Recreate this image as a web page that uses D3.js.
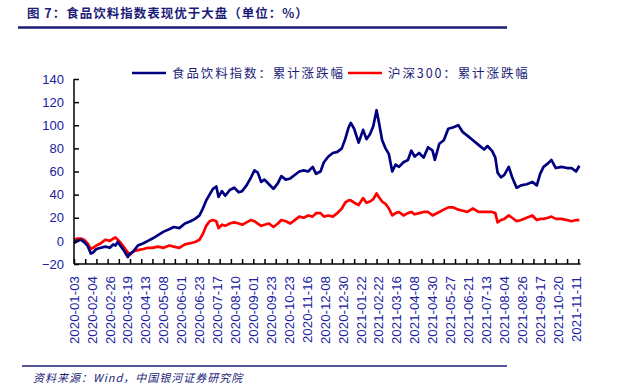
<!DOCTYPE html>
<html>
<head>
<meta charset="utf-8">
<script src="https://cdn.jsdelivr.net/npm/d3@7"></script>
<style>
  body { margin: 0; background: #fff; }
  svg text { font-family: "Liberation Sans", Arial, sans-serif; }
  .cjk { font-family: "Noto Sans CJK SC", sans-serif; }
</style>
</head>
<body>
<div id="chart"></div>
<script>
// trading-day index (0 = 2020-01-03) and cumulative change, %
var dayIdx = [0,3,6,9,12,15,17,20,24,28,32,35,37,39,42,45,48,50,53,57,62,66,70,75,80,85,89,94,99,104,
  108,112,115,118,121,124,127,129,132,135,139,143,147,150,154,158,161,164,167,170,174,178,182,185,189,193,197,201,205,209,
  213,216,220,223,227,231,235,239,242,245,247,250,254,258,261,264,267,270,272,275,278,281,284,287,290,294,298,301,304,308,
  312,316,320,322,326,330,334,338,343,347,351,356,361,366,369,373,376,378,381,384,388,391,395,399,404,409,413,416,419,423,
  426,430,435,440,444,448,451];
var foodBev = [-2,0,1,-1,-4,-11,-10,-7,-6,-5,-6,-3,-4,-1,-5,-9,-14,-11,-9,-4,-2,0,2,5,8,10,12,11,15,17,
  19,22,28,35,40,45,47,38,43,39,44,46,42,43,48,55,61,59,51,53,49,45,50,56,53,54,57,60,61,60,
  64,58,60,68,73,76,77,80,88,98,102,97,85,96,88,92,99,113,103,87,80,75,60,66,64,68,70,78,73,76,
  72,81,78,70,84,87,97,98,100,94,91,87,83,79,82,78,72,59,55,57,64,55,46,48,49,51,48,58,64,67,
  70,63,64,63,63,60,65];
var hs300 = [1,2,2,1,-2,-7,-6,-4,-2,1,0,2,3,1,-2,-6,-10,-12,-9,-8,-7,-6,-6,-5,-6,-4,-5,-6,-3,-2,
  -1,1,6,13,17,18,17,11,14,13,15,16,15,14,16,18,17,15,13,14,15,12,15,18,17,15,18,21,20,22,
  21,24,24,21,22,21,24,28,33,35,35,33,31,37,33,34,36,41,38,34,32,28,22,24,25,22,24,25,23,24,
  25,25,22,23,25,27,29,29,27,26,25,28,25,25,25,25,24,16,18,19,22,20,17,18,20,22,18,19,19,20,
  21,19,19,18,17,18,18];
var tickLabels = ["2020-01-03","2020-02-04","2020-02-26","2020-03-19","2020-04-13","2020-05-08","2020-06-01",
  "2020-06-23","2020-07-17","2020-08-10","2020-09-01","2020-09-23","2020-10-23","2020-11-16","2020-12-08",
  "2020-12-30","2021-01-22","2021-02-22","2021-03-16","2021-04-08","2021-04-30","2021-05-27","2021-06-21",
  "2021-07-13","2021-08-04","2021-08-26","2021-09-17","2021-10-20","2021-11-11"];
var yTicks = [-20,0,20,40,60,80,100,120,140];
var seriesNames = ["食品饮料指数：累计涨跌幅", "沪深300：累计涨跌幅"];

var W = 623, H = 390;
var navy = "#1c1c78", labelBlue = "#2020a0";

var svg = d3.select("#chart").append("svg").attr("width", W).attr("height", H);

// title + rules
svg.append("text").attr("class", "cjk").attr("x", 27).attr("y", 18)
  .attr("font-size", 12.5).attr("font-weight", "bold").attr("fill", navy)
  .attr("letter-spacing", 1)
  .text("图 7：食品饮料指数表现优于大盘（单位：%）");
svg.append("line").attr("x1", 18).attr("x2", 507).attr("y1", 27.5).attr("y2", 27.5)
  .attr("stroke", navy).attr("stroke-width", 2.5);
svg.append("line").attr("x1", 22).attr("x2", 507).attr("y1", 366).attr("y2", 366)
  .attr("stroke", navy).attr("stroke-width", 1.5);
svg.append("text").attr("class", "cjk").attr("x", 33).attr("y", 382)
  .attr("font-size", 11).attr("font-style", "italic").attr("fill", navy)
  .attr("letter-spacing", 1)
  .text("资料来源：Wind，中国银河证券研究院");

var x = d3.scaleLinear().domain([0, 452]).range([74, 580.5]);
var y = d3.scaleLinear().domain([-20, 140]).range([264, 79]);

// lines
var line = d3.line().x(function(d, i) { return x(dayIdx[i]); }).y(function(d) { return y(d); });
svg.append("path").datum(hs300).attr("d", line)
  .attr("fill", "none").attr("stroke", "#ff0000").attr("stroke-width", 2.7).attr("stroke-linejoin", "round");
svg.append("path").datum(foodBev).attr("d", line)
  .attr("fill", "none").attr("stroke", "#000080").attr("stroke-width", 2.7).attr("stroke-linejoin", "round");

// y axis
var yAxis = svg.append("g").attr("transform", "translate(74,0)")
  .call(d3.axisLeft(y).tickValues(yTicks).tickSize(-5).tickPadding(10).tickFormat(d3.format("d")));
yAxis.selectAll("text").attr("font-size", 13).attr("fill", labelBlue).attr("font-family", "Liberation Sans, Arial");
yAxis.selectAll("line, path").attr("stroke", "#000").attr("stroke-width", 1.5);
yAxis.select(".domain").attr("d", "M0,79V264");

// x axis ticks every 10 trading days
var xAxis = svg.append("g").attr("transform", "translate(0,264)")
  .call(d3.axisBottom(x).tickValues(d3.range(0, 452, 10)).tickSize(-5).tickFormat(""));
xAxis.selectAll("line, path").attr("stroke", "#000").attr("stroke-width", 1.5);
xAxis.select(".domain").attr("d", "M74,0H580.5");

// date labels every 16 trading days
var lab = svg.append("g").selectAll("text").data(tickLabels).enter().append("text")
  .attr("transform", function(d, i) { return "translate(" + x(i * 16) + ",276) rotate(-90)"; })
  .attr("text-anchor", "end").attr("dy", "0.35em")
  .attr("font-size", 13.3).attr("fill", labelBlue)
  .text(function(d) { return d; });

// legend
var legend = [{name: seriesNames[0], color: "#000080", x: 132}, {name: seriesNames[1], color: "#ff0000", x: 348}];
legend.forEach(function(l) {
  svg.append("line").attr("x1", l.x).attr("x2", l.x + 34).attr("y1", 73).attr("y2", 73)
    .attr("stroke", l.color).attr("stroke-width", 2.5);
  svg.append("text").attr("class", "cjk").attr("x", l.x + 40).attr("y", 77.5)
    .attr("font-size", 12.5).attr("fill", navy).attr("letter-spacing", 1.9)
    .text(l.name);
});
</script>
</body>
</html>
